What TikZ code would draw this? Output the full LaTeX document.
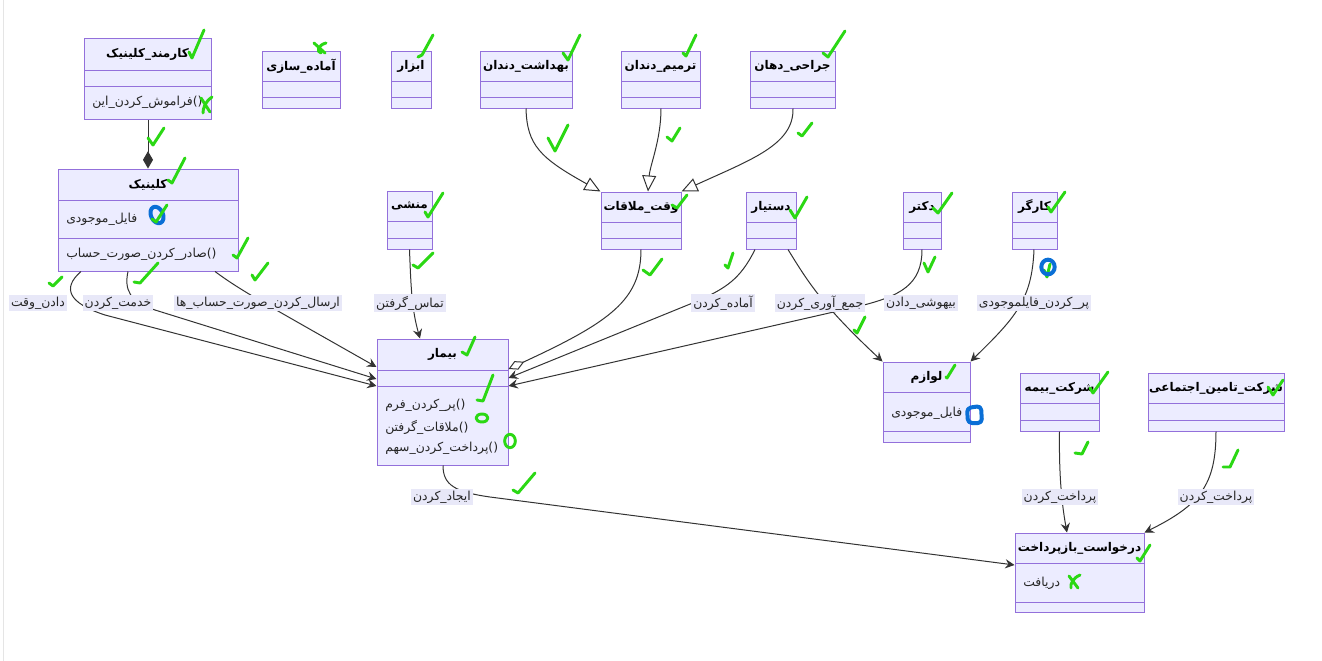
\documentclass[tikz,border=0pt]{standalone}
\usepackage{fontspec}
\newfontfamily\arabicfont[Script=Arabic]{DejaVu Sans}
\TeXXeTstate=1
\usepackage{xcolor}
\usepackage{tikz}
\usetikzlibrary{arrows.meta,fit}

\definecolor{boxfill}{HTML}{ECECFF}
\definecolor{boxline}{HTML}{9370DB}
\definecolor{lblfill}{HTML}{E8E8F8}
\definecolor{edgecol}{HTML}{333333}
\definecolor{pengreen}{HTML}{2BD814}
\definecolor{penblue}{HTML}{0A6FD6}

% class box: name, x1, y1, x2, y2, first rule, second rule, title
\newcommand{\umlclass}[8]{%
  \node[classbox, fit={(#2,#3) (#4,#5)}] (#1) {};
  \draw[classsep] (#2,#6) -- (#4,#6) (#2,#7) -- (#4,#7);
  \node[classtitle] (#1-t) at ({(#2+#4)/2},{(#3+#6)/2}) {\beginR #8\endR};
}

\begin{document}
\begin{tikzpicture}[x=0.75pt,y=-0.75pt,
  classbox/.style={draw=boxline, fill=boxfill, line width=0.75pt, inner sep=0pt},
  classsep/.style={draw=boxline, line width=0.75pt},
  classtitle/.style={font=\arabicfont\bfseries\fontsize{9}{11}\selectfont, inner sep=0pt},
  classtext/.style={font=\arabicfont\fontsize{9.3}{11}\selectfont, text=black!85, inner sep=0pt, anchor=west},
  edgelbl/.style={fill=lblfill, font=\arabicfont\fontsize{9.3}{11}\selectfont, text=black!85, inner sep=1.5pt},
  assoc/.style={draw=edgecol, line width=0.75pt, -{Stealth[length=7pt,width=7pt,inset=2.5pt]}},
  inher/.style={draw=edgecol, line width=0.75pt, -{Triangle[open,fill=white,length=12pt,width=10.5pt]}},
  aggr/.style={draw=edgecol, line width=0.75pt, -{Diamond[open,fill=white,length=13pt,width=7pt]}},
  comp/.style={draw=edgecol, line width=0.75pt, {Diamond[length=13pt,width=7.5pt]}-},
  chk/.style={draw=pengreen, line width=2.2pt, line cap=round, line join=round},
  bluemark/.style={draw=penblue, line width=3pt, line cap=round, line join=round}]
\fill[white] (0,0) rectangle (1322,661);
\useasboundingbox (0,0) rectangle (1322,661);
\draw[black!10] (3,0) -- (3,661);

% classes
\umlclass{karmand}{84}{38}{211}{119}{70}{86}{کارمند\_کلینیک}
\umlclass{amade}{262}{51}{340}{108}{81}{97}{آماده\_سازی}
\umlclass{abzar}{391}{51}{431}{108}{81}{97}{ابزار}
\umlclass{behdasht}{480}{51}{572}{108}{81}{97}{بهداشت\_دندان}
\umlclass{tarmim}{621}{51}{700}{108}{81}{97}{ترمیم\_دندان}
\umlclass{jarahi}{750}{51}{835}{108}{81}{97}{جراحی\_دهان}
\umlclass{clinic}{58}{169}{238}{271}{200}{238}{کلینیک}
\umlclass{monshi}{387}{191}{432}{249}{221}{238}{منشی}
\umlclass{vaght}{601}{192}{681}{249}{222}{238}{وقت\_ملاقات}
\umlclass{dastyar}{746}{192}{796}{249}{222}{238}{دستیار}
\umlclass{doctor}{903}{192}{941}{249}{222}{238}{دکتر}
\umlclass{kargar}{1012}{192}{1057}{249}{222}{238}{کارگر}
\umlclass{bimar}{377}{339}{508}{465}{370}{386}{بیمار}
\umlclass{lavazem}{883}{362}{970}{442}{392}{431}{لوازم}
\umlclass{bime}{1020}{373}{1099}{431}{403}{420}{شرکت\_بیمه}
\umlclass{tamin}{1148}{373}{1284}{431}{403}{420}{شرکت\_تامین\_اجتماعی}
\umlclass{darkhast}{1015}{533}{1144}{612}{563}{602}{درخواست\_بازپرداخت}

% members
\node[classtext] (karmand-m1) at (92,102) {\beginR فراموش\_کردن\_این\endR()};
\node[classtext] (clinic-a1) at (66,219) {\beginR فایل\_موجودی\endR};
\node[classtext] (clinic-m1) at (66,254) {\beginR صادر\_کردن\_صورت\_حساب\endR()};
\node[classtext] (bimar-m1) at (385,405) {\beginR پر\_کردن\_فرم\endR()};
\node[classtext] (bimar-m2) at (385,427) {\beginR ملاقات\_گرفتن\endR()};
\node[classtext] (bimar-m3) at (385,448) {\beginR پرداخت\_کردن\_سهم\endR()};
\node[classtext] (lavazem-a1) at (891,413) {\beginR فایل\_موجودی\endR};
\node[classtext] (darkhast-a1) at (1023,583) {\beginR دریافت\endR};

% relations
\draw[comp] (148,0 |- clinic.north) -- (148,0 |- karmand.south);
\draw[inher] (526,0 |- behdasht.south) .. controls (527,145) and (540,158) .. (vaght.north west);
\draw[inher] (661,0 |- tarmim.south) .. controls (661,140) and (650,165) .. (648,0 |- vaght.north);
\draw[inher] (793,0 |- jarahi.south) .. controls (794,145) and (750,160) .. (vaght.north east);
\draw[assoc] (81,0 |- clinic.south) .. controls (62,288) and (68,303) .. (105,315) -- (bimar.west |- 0,386);
\draw[assoc] (128,0 |- clinic.south) .. controls (124,290) and (130,302) .. (155,310) -- (bimar.west |- 0,379);
\draw[assoc] (215,0 |- clinic.south) .. controls (240,290) and (262,302) .. (bimar.west |- 0,367);
\draw[assoc] (monshi.south) .. controls (411,290) and (412,310) .. (420,0 |- bimar.north);
\draw[aggr] (vaght.south) .. controls (641,300) and (610,322) .. (bimar.east |- 0,369);
\draw[assoc] (755,0 |- dastyar.south) .. controls (740,280) and (725,288) .. (700,300) -- (bimar.east |- 0,378);
\draw[assoc] (doctor.south) .. controls (922,285) and (900,296) .. (860,306) -- (bimar.east |- 0,386);
\draw[assoc] (788,0 |- dastyar.south) .. controls (808,282) and (822,305) .. (lavazem.north west);
\draw[assoc] (1034,0 |- kargar.south) .. controls (1032,300) and (1015,318) .. (lavazem.north east);
\draw[assoc] (443,0 |- bimar.south) .. controls (443,485) and (455,492) .. (490,497) -- (darkhast.west |- 0,565);
\draw[assoc] (bime.south) .. controls (1059,470) and (1061,500) .. (1067,0 |- darkhast.north);
\draw[assoc] (tamin.south) .. controls (1216,485) and (1200,505) .. (darkhast.north east);

% relation labels
\node[edgelbl] (l-vaght) at (38,303) {\beginR دادن\_وقت\endR};
\node[edgelbl] (l-khedmat) at (118,303) {\beginR خدمت\_کردن\endR};
\node[edgelbl] (l-ersal) at (258,303) {\beginR ارسال\_کردن\_صورت\_حساب\_ها\endR};
\node[edgelbl] (l-tamas) at (410,303) {\beginR تماس\_گرفتن\endR};
\node[edgelbl] (l-amade) at (723,303) {\beginR آماده\_کردن\endR};
\node[edgelbl] (l-jam) at (820,303) {\beginR جمع\_آوری\_کردن\endR};
\node[edgelbl] (l-bihoshi) at (921,303) {\beginR بیهوشی\_دادن\endR};
\node[edgelbl] (l-file) at (1034,303) {\beginR پر\_کردن\_فایلموجودی\endR};
\node[edgelbl] (l-ijad) at (442,497) {\beginR ایجاد\_کردن\endR};
\node[edgelbl] (l-bime) at (1060,497) {\beginR پرداخت\_کردن\endR};
\node[edgelbl] (l-tamin) at (1216,497) {\beginR پرداخت\_کردن\endR};

% pen marks
\foreach \xa/\ya/\xb/\yb/\xc/\yc in {189/52/192/58/204/30, 418/57/422/55/433/35,
  563/53/568/60/580/35, 683/53/686/56/696/35, 823/53/828/57/845/31,
  148/138/153/145/164/128, 168/180/172/183/185/158, 233/255/237/258/248/238,
  49/283/53/286/62/277, 134/282/140/283/158/263, 252/275/255/280/268/263,
  425/212/428/217/443/193, 413/265/418/268/433/253, 672/205/677/208/687/195,
  643/270/650/275/662/259, 462/352/467/355/475/337, 477/400/483/401/493/375,
  513/490/518/493/535/473, 790/210/795/218/807/197, 933/208/938/213/952/193,
  1048/207/1051/212/1065/192, 725/265/728/268/733/253, 924/263/928/272/935/257,
  854/330/857/333/865/317, 946/377/947/378/955/365, 1090/388/1093/393/1108/372,
  1268/387/1273/395/1283/380, 1075/453/1082/454/1088/442, 1223/467/1230/467/1238/450,
  1137/558/1140/561/1150/545, 667/137/672/141/680/128, 548/138/555/151/568/125,
  798/133/802/136/812/123}
  \draw[chk] (\xa,\ya) -- (\xb,\yb) -- (\xc,\yc);
\draw[bluemark, rotate around={25:(157,215)}] (157,215) ellipse [x radius=4.5pt, y radius=6.5pt];
\draw[chk] (152,219) -- (156,222) -- (167,205);
\draw[chk] (1044,270) -- (1047,277) -- (1050,264);
\draw[bluemark] (1048,267) ellipse [x radius=5pt, y radius=5.5pt];
\draw[bluemark, rounded corners=3pt] (968,423) -- (967,408) -- (981,406) -- (982,423) -- cycle;
\draw[chk] (482,418) ellipse [x radius=4.5pt, y radius=3pt];
\draw[chk] (510,441) ellipse [x radius=4pt, y radius=5pt];
\draw[chk] (314,43) -- (325,53) (326,43) .. controls (318,45) and (316,52) .. (321,53);
\draw[chk] (201,98) -- (210,112) (212,97) .. controls (205,102) and (203,108) .. (203,113);
\draw[chk] (1069,576) -- (1078,588) (1080,575) .. controls (1073,578) and (1070,584) .. (1071,588);
\end{tikzpicture}
\end{document}
